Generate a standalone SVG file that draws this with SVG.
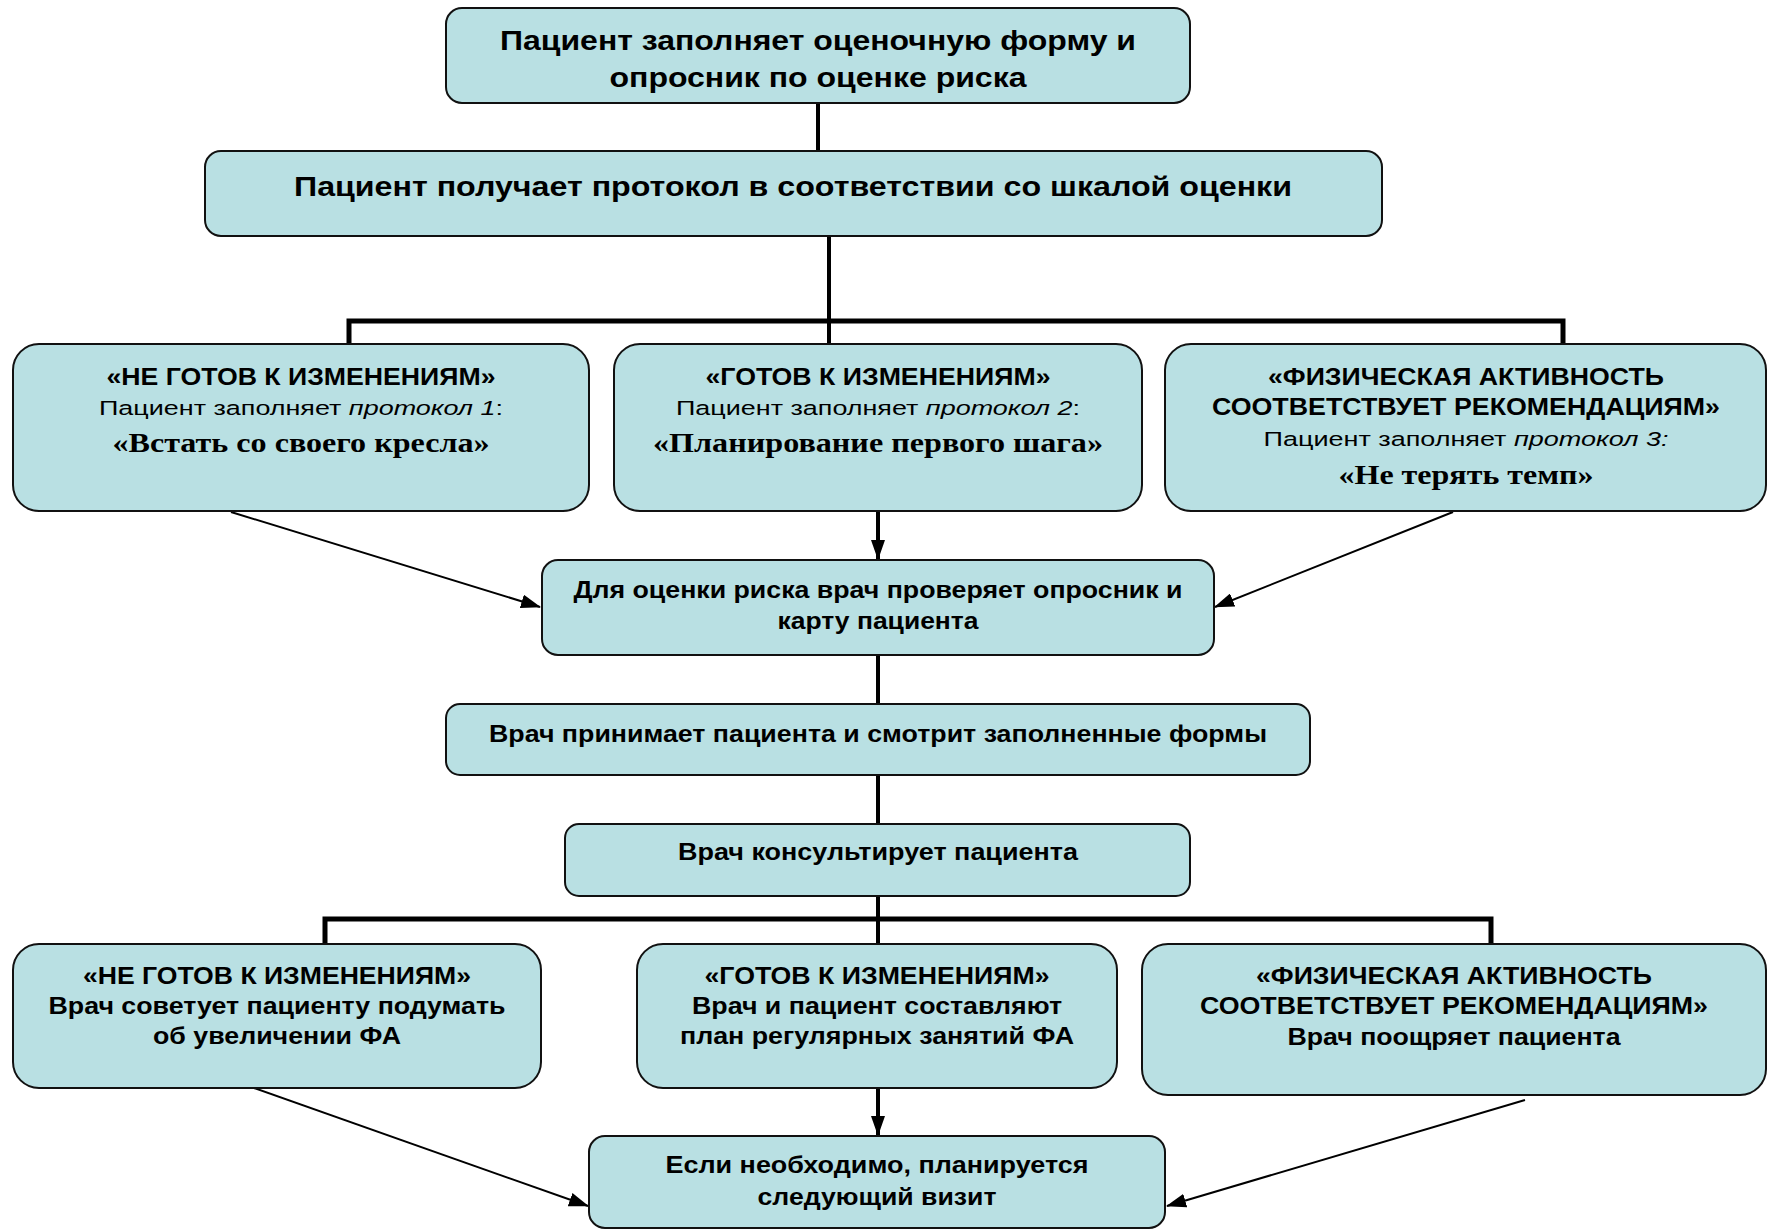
<svg xmlns="http://www.w3.org/2000/svg" width="1769" height="1230" viewBox="0 0 1769 1230">
<defs>
<style>
.box{fill:#B9E0E3;stroke:#111;stroke-width:2}
.t{font-family:"Liberation Sans",Arial,sans-serif;font-weight:bold;fill:#000;text-anchor:middle}
.big{font-size:27px}
.md{font-size:23.5px}
.reg{font-family:"Liberation Sans",Arial,sans-serif;font-size:20.5px;fill:#000;text-anchor:middle}
.ser{font-family:"Liberation Serif","Times New Roman",serif;font-weight:bold;font-size:28px;fill:#000;text-anchor:middle}
.thick{stroke:#000;stroke-width:4;fill:none}
.bus{stroke:#000;stroke-width:5;fill:none}
.thin{stroke:#000;stroke-width:2;fill:none}
</style>
<marker id="ah" markerUnits="userSpaceOnUse" markerWidth="20" markerHeight="14" refX="19" refY="7" orient="auto">
<path d="M0,0 L20,7 L0,14 Z" fill="#000"/>
</marker>
</defs>
<rect width="1769" height="1230" fill="#fff"/>
<g id="connectors">
<line class="thick" x1="818" y1="103" x2="818" y2="151"/>
<line class="thick" x1="829" y1="236" x2="829" y2="344"/>
<polyline class="bus" points="349,344 349,321 1563,321 1563,344"/>
<line class="thin" x1="231" y1="512" x2="540" y2="607" marker-end="url(#ah)"/>
<line class="thick" x1="878" y1="511" x2="878" y2="559" marker-end="url(#ah)"/>
<line class="thin" x1="1453" y1="512" x2="1215" y2="607" marker-end="url(#ah)"/>
<line class="thick" x1="878" y1="655" x2="878" y2="704"/>
<line class="thick" x1="878" y1="775" x2="878" y2="824"/>
<line class="thick" x1="878" y1="896" x2="878" y2="944"/>
<polyline class="bus" points="325,944 325,919 1491,919 1491,944"/>
<line class="thin" x1="254" y1="1088" x2="588" y2="1206" marker-end="url(#ah)"/>
<line class="thick" x1="878" y1="1088" x2="878" y2="1135" marker-end="url(#ah)"/>
<line class="thin" x1="1525" y1="1100" x2="1167" y2="1206" marker-end="url(#ah)"/>
</g>
<g id="n1">
<rect class="box" x="446" y="8" width="744" height="95" rx="16"/>
<text class="t big" x="818" y="50" textLength="636" lengthAdjust="spacingAndGlyphs">Пациент заполняет оценочную форму и</text>
<text class="t big" x="818" y="87" textLength="417" lengthAdjust="spacingAndGlyphs">опросник по оценке риска</text>
</g>
<g id="n2">
<rect class="box" x="205" y="151" width="1177" height="85" rx="16"/>
<text class="t big" x="793" y="196" textLength="998" lengthAdjust="spacingAndGlyphs">Пациент получает протокол в соответствии со шкалой оценки</text>
</g>
<g id="n3a">
<rect class="box" x="13" y="344" width="576" height="167" rx="26"/>
<text class="t md" x="301" y="385" textLength="389" lengthAdjust="spacingAndGlyphs">«НЕ ГОТОВ К ИЗМЕНЕНИЯМ»</text>
<text class="reg" x="301" y="415" textLength="404" lengthAdjust="spacingAndGlyphs">Пациент заполняет <tspan font-style="italic">протокол 1</tspan>:</text>
<text class="ser" x="301" y="452" textLength="377" lengthAdjust="spacingAndGlyphs">«Встать со своего кресла»</text>
</g>
<g id="n3b">
<rect class="box" x="614" y="344" width="528" height="167" rx="26"/>
<text class="t md" x="878" y="385" textLength="345" lengthAdjust="spacingAndGlyphs">«ГОТОВ К ИЗМЕНЕНИЯМ»</text>
<text class="reg" x="878" y="415" textLength="404" lengthAdjust="spacingAndGlyphs">Пациент заполняет <tspan font-style="italic">протокол 2</tspan>:</text>
<text class="ser" x="878" y="452" textLength="450" lengthAdjust="spacingAndGlyphs">«Планирование первого шага»</text>
</g>
<g id="n3c">
<rect class="box" x="1165" y="344" width="601" height="167" rx="26"/>
<text class="t md" x="1466" y="385" textLength="396" lengthAdjust="spacingAndGlyphs">«ФИЗИЧЕСКАЯ АКТИВНОСТЬ</text>
<text class="t md" x="1466" y="415" textLength="508" lengthAdjust="spacingAndGlyphs">СООТВЕТСТВУЕТ РЕКОМЕНДАЦИЯМ»</text>
<text class="reg" x="1466" y="446" textLength="405" lengthAdjust="spacingAndGlyphs">Пациент заполняет <tspan font-style="italic">протокол 3:</tspan></text>
<text class="ser" x="1466" y="484" textLength="255" lengthAdjust="spacingAndGlyphs">«Не терять темп»</text>
</g>
<g id="n4">
<rect class="box" x="542" y="560" width="672" height="95" rx="16"/>
<text class="t md" x="878" y="598" textLength="609" lengthAdjust="spacingAndGlyphs">Для оценки риска врач проверяет опросник и</text>
<text class="t md" x="878" y="629" textLength="201" lengthAdjust="spacingAndGlyphs">карту пациента</text>
</g>
<g id="n5">
<rect class="box" x="446" y="704" width="864" height="71" rx="14"/>
<text class="t md" x="878" y="742" textLength="778" lengthAdjust="spacingAndGlyphs">Врач принимает пациента и смотрит заполненные формы</text>
</g>
<g id="n6">
<rect class="box" x="565" y="824" width="625" height="72" rx="14"/>
<text class="t md" x="878" y="860" textLength="400" lengthAdjust="spacingAndGlyphs">Врач консультирует пациента</text>
</g>
<g id="n7a">
<rect class="box" x="13" y="944" width="528" height="144" rx="26"/>
<text class="t md" x="277" y="984" textLength="388" lengthAdjust="spacingAndGlyphs">«НЕ ГОТОВ К ИЗМЕНЕНИЯМ»</text>
<text class="t md" x="277" y="1014" textLength="457" lengthAdjust="spacingAndGlyphs">Врач советует пациенту подумать</text>
<text class="t md" x="277" y="1044" textLength="248" lengthAdjust="spacingAndGlyphs">об увеличении ФА</text>
</g>
<g id="n7b">
<rect class="box" x="637" y="944" width="480" height="144" rx="26"/>
<text class="t md" x="877" y="984" textLength="345" lengthAdjust="spacingAndGlyphs">«ГОТОВ К ИЗМЕНЕНИЯМ»</text>
<text class="t md" x="877" y="1014" textLength="370" lengthAdjust="spacingAndGlyphs">Врач и пациент составляют</text>
<text class="t md" x="877" y="1044" textLength="394" lengthAdjust="spacingAndGlyphs">план регулярных занятий ФА</text>
</g>
<g id="n7c">
<rect class="box" x="1142" y="944" width="624" height="151" rx="26"/>
<text class="t md" x="1454" y="984" textLength="396" lengthAdjust="spacingAndGlyphs">«ФИЗИЧЕСКАЯ АКТИВНОСТЬ</text>
<text class="t md" x="1454" y="1014" textLength="508" lengthAdjust="spacingAndGlyphs">СООТВЕТСТВУЕТ РЕКОМЕНДАЦИЯМ»</text>
<text class="t md" x="1454" y="1045" textLength="333" lengthAdjust="spacingAndGlyphs">Врач поощряет пациента</text>
</g>
<g id="n8">
<rect class="box" x="589" y="1136" width="576" height="92" rx="16"/>
<text class="t md" x="877" y="1173" textLength="423" lengthAdjust="spacingAndGlyphs">Если необходимо, планируется</text>
<text class="t md" x="877" y="1205" textLength="239" lengthAdjust="spacingAndGlyphs">следующий визит</text>
</g>
</svg>
